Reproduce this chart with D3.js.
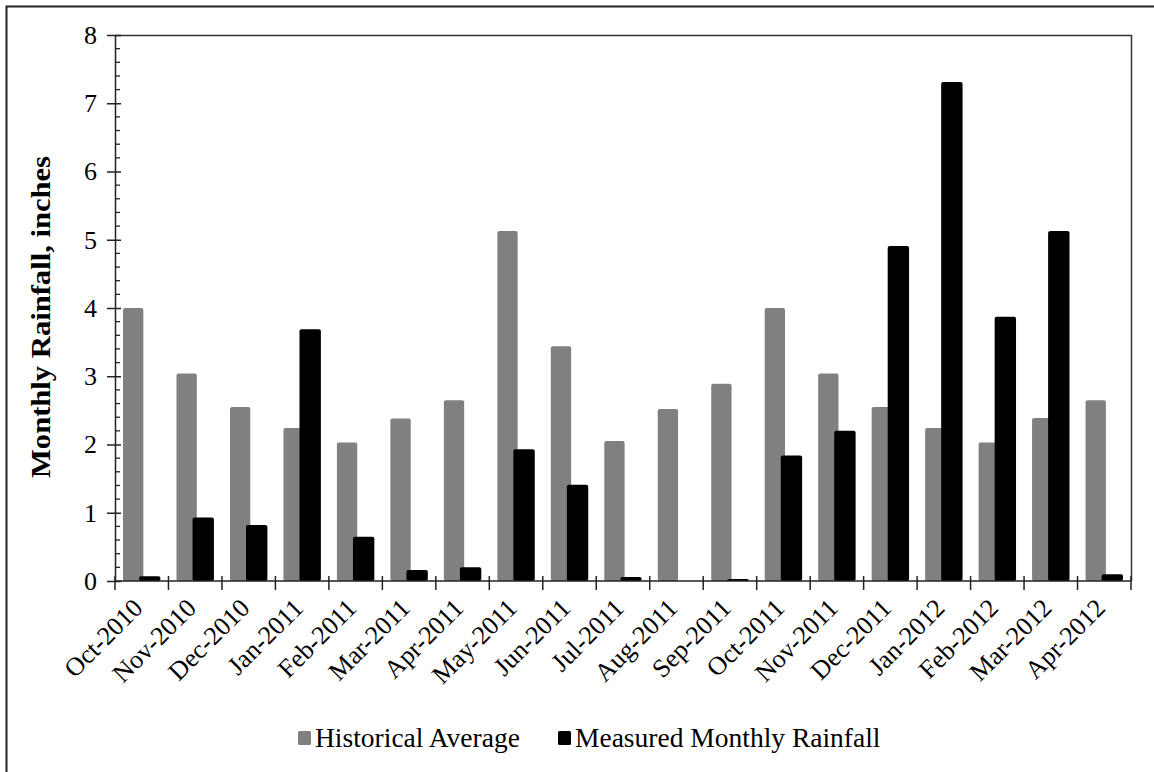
<!DOCTYPE html>
<html>
<head>
<meta charset="utf-8">
<script src="https://cdn.jsdelivr.net/npm/d3@7/dist/d3.min.js"></script>
<style>
  html, body { margin: 0; padding: 0; background: #fff; }
  svg { display: block; }
  text { font-family: "Liberation Serif", "Times New Roman", serif; fill: #000; }
</style>
</head>
<body>
<svg id="chart" width="1154" height="772"></svg>
<script>
const months = ["Oct-2010","Nov-2010","Dec-2010","Jan-2011","Feb-2011","Mar-2011","Apr-2011","May-2011","Jun-2011","Jul-2011","Aug-2011","Sep-2011","Oct-2011","Nov-2011","Dec-2011","Jan-2012","Feb-2012","Mar-2012","Apr-2012"];
const historical = [4.00,3.04,2.55,2.24,2.03,2.38,2.65,5.13,3.44,2.05,2.52,2.89,4.00,3.04,2.55,2.24,2.03,2.39,2.65];
const measured   = [0.07,0.93,0.82,3.69,0.65,0.16,0.20,1.93,1.41,0.06,0.00,0.03,1.84,2.20,4.91,7.31,3.87,5.13,0.10];
const yTicks = [0,1,2,3,4,5,6,7,8];
const seriesNames = ["Historical Average","Measured Monthly Rainfall"];
const seriesColors = ["#808080","#000000"];

const svg = d3.select("#chart");
const L = 115, R = 1131, T = 35, B = 581;

// outer frame
svg.append("rect").attr("x",6.5).attr("y",6.5).attr("width",1170).attr("height",800)
  .attr("fill","none").attr("stroke","#222").attr("stroke-width",2);

const x = d3.scaleBand().domain(months).range([L,R]).paddingInner(0).paddingOuter(0);
const y = d3.scaleLinear().domain([0,8]).range([B,T]);
const bw = x.bandwidth();

// bars
const g = svg.append("g");
g.selectAll("rect.hist").data(months).join("rect").attr("class","hist")
  .attr("x", d => x(d) + 0.15*bw).attr("width", 0.38*bw)
  .attr("y", (d,i) => y(historical[i])).attr("height", (d,i) => B - y(historical[i]))
  .attr("rx",2).attr("fill",seriesColors[0]);
g.selectAll("rect.meas").data(months).join("rect").attr("class","meas")
  .attr("x", d => x(d) + 0.45*bw).attr("width", 0.40*bw)
  .attr("y", (d,i) => y(measured[i])).attr("height", (d,i) => B - y(measured[i]))
  .attr("rx",2).attr("fill",seriesColors[1]);

// plot border top/right
svg.append("path").attr("d",`M${L},${T+0.5}H${R+0.5}V${B}`).attr("fill","none")
  .attr("stroke","#333").attr("stroke-width",1.5);

// y axis
const yAxis = d3.axisLeft(y).tickValues(yTicks).tickSize(8).tickSizeOuter(0).tickPadding(10);
const ya = svg.append("g").attr("transform",`translate(${L},0)`).call(yAxis);
ya.select(".domain").attr("stroke","#222").attr("stroke-width",1.5);
ya.selectAll(".tick line").attr("stroke","#222").attr("stroke-width",1.5).attr("x2",-8).attr("x1",6);
ya.selectAll(".tick text").attr("font-size",26).attr("font-family","Liberation Serif").attr("fill","#111").attr("x",-18);
// minor ticks
const minor = d3.range(0,8.001,0.2).filter(v => Math.abs(v - Math.round(v)) > 1e-6);
svg.append("g").selectAll("line").data(minor).join("line")
  .attr("x1",L).attr("x2",L+5).attr("y1",d=>y(d)).attr("y2",d=>y(d))
  .attr("stroke","#222").attr("stroke-width",1.3);

// x axis
svg.append("line").attr("x1",L).attr("x2",R).attr("y1",B).attr("y2",B)
  .attr("stroke","#222").attr("stroke-width",1.5);
const bounds = months.map(m => x(m)).concat([R]);
svg.append("g").selectAll("line").data(bounds).join("line")
  .attr("x1",d=>d).attr("x2",d=>d).attr("y1",B-5).attr("y2",B+9)
  .attr("stroke","#222").attr("stroke-width",1.5);
svg.append("g").selectAll("text").data(months).join("text")
  .attr("transform", d => `translate(${x(d)+bw/2-4},${B+22}) rotate(-45)`)
  .attr("text-anchor","end").attr("dy","0.35em")
  .attr("font-size",26).attr("fill","#111").text(d=>d);

// y title
svg.append("text").attr("transform",`translate(50,${(T+B)/2 + 9}) rotate(-90)`)
  .attr("text-anchor","middle").attr("font-size",27).attr("font-weight","bold")
  .attr("textLength",322).attr("lengthAdjust","spacingAndGlyphs")
  .text("Monthly Rainfall, inches");

// legend
const leg = [{x:298, tx:315},{x:558, tx:575}];
seriesNames.forEach((n,i) => {
  svg.append("rect").attr("x",leg[i].x).attr("y",731).attr("width",13).attr("height",14)
    .attr("rx",1.5).attr("fill",seriesColors[i]);
  svg.append("text").attr("x",leg[i].tx).attr("y",747).attr("font-size",27.5).attr("fill","#111").text(n);
});
</script>
</body>
</html>
